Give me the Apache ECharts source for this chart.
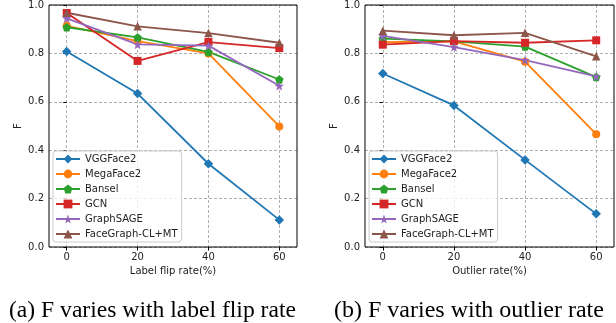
<!DOCTYPE html>
<html>
<head>
<meta charset="utf-8">
<script src="https://cdn.jsdelivr.net/npm/echarts@6/dist/echarts.min.js"></script>
<style>html,body{margin:0;padding:0;background:#fff;}#c{width:616px;height:323px;}</style>
</head>
<body>
<div id="c"></div>
<script>
// ---- data ----
var xTicks = [0, 20, 40, 60];
var seriesNames = ['VGGFace2', 'MegaFace2', 'Bansel', 'GCN', 'GraphSAGE', 'FaceGraph-CL+MT'];
// (a) label flip rate
var vggA    = [0.808, 0.634, 0.344, 0.112];
var megaA   = [0.914, 0.851, 0.800, 0.498];
var banselA = [0.908, 0.866, 0.806, 0.692];
var gcnA    = [0.967, 0.769, 0.847, 0.822];
var sageA   = [0.945, 0.837, 0.832, 0.666];
var fgA     = [0.968, 0.912, 0.884, 0.844];
// (b) outlier rate
var vggB    = [0.717, 0.585, 0.360, 0.137];
var megaB   = [0.846, 0.850, 0.766, 0.466];
var banselB = [0.861, 0.850, 0.828, 0.702];
var gcnB    = [0.836, 0.851, 0.844, 0.854];
var sageB   = [0.872, 0.826, 0.772, 0.705];
var fgB     = [0.894, 0.875, 0.885, 0.788];
var xNames = ['Label flip rate(%)', 'Outlier rate(%)'];
var captions = ['(a) F varies with label flip rate', '(b) F varies with outlier rate'];

// ---- styles ----
var colors = ['#1f77b4', '#ff7f0e', '#2ca02c', '#d62728', '#9467bd', '#8c564b'];
var STAR = 'path://M0,-10 L2.35,-3.24 L9.51,-3.09 L3.80,1.24 L5.88,8.09 L0,4 L-5.88,8.09 L-3.80,1.24 L-9.51,-3.09 L-2.35,-3.24 Z';
var PENT = 'path://M0,-10 L9.51,-3.09 L5.88,8.09 L-5.88,8.09 L-9.51,-3.09 Z';
var symbols = ['diamond', 'circle', PENT, 'rect', STAR, 'triangle'];
var sizes = [9.5, 8, 8.5, 8, 9.5, 8.5];

var dataA = [vggA, megaA, banselA, gcnA, sageA, fgA];
var dataB = [vggB, megaB, banselB, gcnB, sageB, fgB];

function pairs(vals) { return xTicks.map(function (x, i) { return [x, vals[i]]; }); }

var grids = [
  { left: 49, right: 319, top: 5, bottom: 76 },
  { left: 365, right: 2, top: 5, bottom: 76 }
];
var gridOpts = grids.map(function (g) {
  return Object.assign({ show: true, borderColor: '#000', borderWidth: 1, backgroundColor: 'transparent', z: 10 }, g);
});

var font = 'DejaVu Sans';
var xAxes = [0, 1].map(function (i) {
  return {
    type: 'value', gridIndex: i, min: -5, max: 65,
    name: xNames[i], nameLocation: 'middle', nameGap: 17,
    nameTextStyle: { fontFamily: font, fontSize: 10, color: '#222' },
    axisLine: { show: false },
    axisTick: { show: true, length: 3.5, customValues: xTicks, lineStyle: { color: '#000' } },
    axisLabel: { customValues: xTicks, fontFamily: font, fontSize: 10, color: '#222', margin: 5 },
    splitLine: { show: true, lineStyle: { color: '#b0b0b0', type: [3, 2], width: 1 } }
  };
});
var yAxes = [0, 1].map(function (i) {
  return {
    type: 'value', gridIndex: i, min: 0, max: 1, interval: 0.2,
    name: 'F', nameLocation: 'middle', nameGap: 26,
    nameTextStyle: { fontFamily: font, fontSize: 10, color: '#222' },
    axisLine: { show: false },
    axisTick: { show: true, length: 3.5, lineStyle: { color: '#000' } },
    axisLabel: { fontFamily: font, fontSize: 10, color: '#222', margin: 5,
      formatter: function (v) { return v.toFixed(1); } },
    splitLine: { show: true, lineStyle: { color: '#b0b0b0', type: [3, 2], width: 1 } }
  };
});

var series = [];
[dataA, dataB].forEach(function (set, gi) {
  set.forEach(function (vals, si) {
    series.push({
      type: 'line', name: seriesNames[si], xAxisIndex: gi, yAxisIndex: gi,
      data: pairs(vals), symbol: symbols[si], symbolSize: sizes[si], showSymbol: true,
      itemStyle: { color: colors[si] },
      lineStyle: { color: colors[si], width: 1.8 },
      emphasis: { disabled: true }, animation: false
    });
  });
});

var legends = [53, 369].map(function (lx) {
  return {
    data: seriesNames, left: lx, top: 151, orient: 'vertical',
    itemWidth: 24, itemHeight: 11, itemGap: 3, padding: [2, 4, 2, 2],
    textStyle: { fontFamily: font, fontSize: 10, color: '#222', lineHeight: 12 },
    backgroundColor: 'rgba(255,255,255,0.8)', borderColor: '#cccccc', borderWidth: 1, borderRadius: 3,
    selectedMode: false, z: 12
  };
});

var graphics = [
  { type: 'text', left: 9, top: 299, style: { text: captions[0], font: '23.6px "Liberation Serif"', fill: '#000' } },
  { type: 'text', left: 334, top: 299, style: { text: captions[1], font: '24px "Liberation Serif"', fill: '#000' } }
];

var chart = echarts.init(document.getElementById('c'), null, { renderer: 'canvas' });
chart.setOption({
  animation: false,
  backgroundColor: '#fff',
  grid: gridOpts,
  xAxis: xAxes,
  yAxis: yAxes,
  legend: legends,
  series: series,
  graphic: graphics
});
</script>
</body>
</html>
